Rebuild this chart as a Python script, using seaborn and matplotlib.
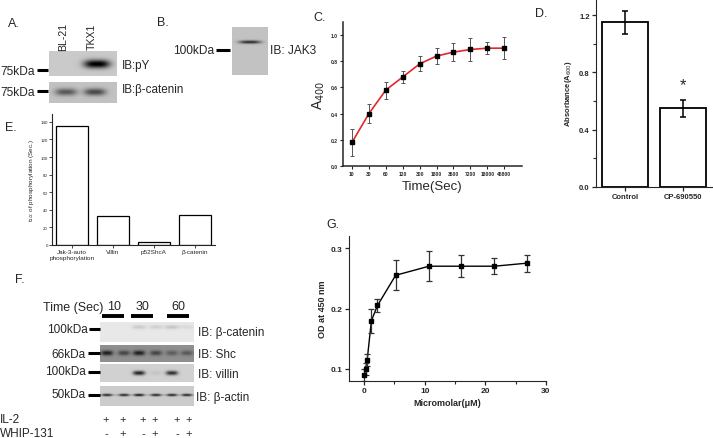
import numpy as np
import pandas as pd
import matplotlib
matplotlib.use("Agg")
import matplotlib.pyplot as plt
import seaborn as sns

# ---------------- data ----------------
# Panel C: time course of A400
C_labels = ['10', '30', '60', '120', '300', '1800', '3600', '7200', '18000', '46800']
C_vals = [0.18, 0.40, 0.58, 0.68, 0.78, 0.84, 0.87, 0.89, 0.90, 0.90]
C_err = [0.10, 0.07, 0.065, 0.047, 0.058, 0.061, 0.066, 0.085, 0.046, 0.083]

# Panel D: absorbance
D_labels = ['Control', 'CP-690550']
D_vals = [1.15, 0.55]
D_err = [0.08, 0.06]

# Panel E: t1/2 of phosphorylation
E_labels = ['Jak-3-auto\nphosphorylation', 'Villin', 'p52ShcA', 'β-catenin']
E_vals = [135, 33, 3, 34]

# Panel G: OD at 450 nm vs concentration
G_x = [0, 0.25, 0.5, 1.2, 2.2, 5.2, 10.7, 16.0, 21.5, 26.8]
G_y = [0.09, 0.10, 0.115, 0.18, 0.205, 0.255, 0.27, 0.27, 0.27, 0.275]
G_err = [0.01, 0.01, 0.01, 0.02, 0.01, 0.025, 0.025, 0.018, 0.013, 0.014]

# Blot band intensities (0 = no band, 1 = black)
A_lanes = ['BL-21', 'TKX1']
A_pY = [0.0, 0.82]
A_bcat = [0.42, 0.48]
B_jak3 = [0.60]
F_times = ['10', '30', '60']
F_il2 = ['+', '+', '+', '+', '+', '+']
F_whip = ['-', '+', '-', '+', '-', '+']
F_bcat = [0.0, 0.0, 0.12, 0.10, 0.14, 0.06]
F_shc = [0.45, 0.30, 0.45, 0.30, 0.20, 0.22]
F_villin = [0.0, 0.0, 0.70, 0.05, 0.65, 0.0]
F_actin = [0.55, 0.55, 0.60, 0.55, 0.55, 0.55]

# ---------------- style ----------------
sns.set_style("ticks")
plt.rcParams['font.family'] = ['Liberation Sans', 'DejaVu Sans']

W, H = 713, 439
fig = plt.figure(figsize=(W / 100, H / 100), dpi=100)
ov = fig.add_axes([0, 0, 1, 1])
ov.set_xlim(0, W)
ov.set_ylim(H, 0)
ov.axis('off')
ov.set_zorder(10)
ov.patch.set_visible(False)


def T(x, y, s, size=9, ha='left', va='center', **kw):
    ov.text(x, y, s, fontsize=size, ha=ha, va=va, **kw)


def dash(x0, x1, y, lw=2.2):
    ov.plot([x0, x1], [y, y], color='black', lw=lw, solid_capstyle='butt')


def px_axes(x0, y0, x1, y1):
    return fig.add_axes([x0 / W, 1 - y1 / H, (x1 - x0) / W, (y1 - y0) / H])


def blot(x0, y0, x1, y1, bg, lanes, ints, by, bw, bh, extra=0.0):
    ax = px_axes(x0, y0, x1, y1)
    nx, ny = int((x1 - x0) * 4), int((y1 - y0) * 4)
    X, Y = np.meshgrid(np.linspace(x0, x1, nx), np.linspace(y0, y1, ny))
    img = np.full(X.shape, bg, dtype=float)
    for lx, it in zip(lanes, ints):
        img -= it * np.exp(-np.abs((X - lx) / bw) ** 3 - ((Y - by) / bh) ** 2)
    if extra:
        img -= extra * np.exp(-((Y - by) / (bh * 0.6)) ** 2)
    img = np.clip(img, 0, 1)
    ax.imshow(img, cmap='gray', vmin=0, vmax=1, extent=(x0, x1, y1, y0),
              aspect='auto', interpolation='bilinear')
    ax.set_axis_off()
    return ax

# ---------------- Panel A ----------------
T(8, 24, "A.", 9)
for lx, lab in zip([63, 92], A_lanes):
    ov.text(lx, 37, lab, rotation=90, ha='center', va='center', fontsize=7.6)
blot(49, 52, 117, 77, 0.79, [66, 97], A_pY, 65, 13, 4.2)
blot(49, 83, 117, 104, 0.76, [66, 95], A_bcat, 93, 11, 3.6)
T(35, 72, "75kDa", 8.6, ha='right')
dash(37, 48, 71)
T(35, 93, "75kDa", 8.6, ha='right')
dash(37, 48, 92)
T(122, 66, "IB:pY", 8.4)
T(122, 90, "IB:β-catenin", 8.4)

# ---------------- Panel B ----------------
T(157, 23, "B.", 9)
blot(232, 28, 268, 76, 0.76, [250], B_jak3, 43, 11, 1.6)
T(214, 51, "100kDa", 8.6, ha='right')
dash(216, 230, 51)
T(270, 51, "IB: JAK3", 8.6)

# ---------------- Panel C ----------------
T(313, 18, "C.", 9)
axC = px_axes(343, 23, 522, 167)
C_pos = np.arange(len(C_labels))
sns.lineplot(x=C_pos, y=C_vals, ax=axC, color='#e3262b', lw=1.2)
axC.errorbar(C_pos, C_vals, yerr=C_err, fmt='s', color='black', ms=2.8,
             ecolor='#555555', elinewidth=0.7, capsize=1.5, capthick=0.7)
axC.set_xlim(-0.53, 10.05)
axC.set_ylim(0, 1.1)
axC.set_xticks(C_pos)
axC.set_xticklabels(C_labels)
axC.set_yticks([0.0, 0.2, 0.4, 0.6, 0.8, 1.0])
axC.set_yticklabels(['0.0', '0.2', '0.4', '0.6', '0.8', '1.0'])
axC.tick_params(labelsize=3.6, length=2, width=0.8, pad=1.5)
for lab in axC.get_xticklabels() + axC.get_yticklabels():
    lab.set_fontweight('bold')
for s in ['left', 'bottom']:
    axC.spines[s].set_linewidth(1.1)
sns.despine(ax=axC)
axC.set_xlabel("Time(Sec)", fontsize=9.5, labelpad=3)
axC.set_ylabel("A$_{400}$", fontsize=10, labelpad=3)

# ---------------- Panel D ----------------
T(535, 14, "D.", 9)
axD = px_axes(596, 0, 713, 188)
sns.barplot(x=D_labels, y=D_vals, ax=axD, width=0.8, color='white',
            edgecolor='black', linewidth=1.3)
for p in axD.patches:
    p.set_facecolor('white')
axD.errorbar(range(len(D_vals)), D_vals, yerr=D_err, fmt='none', ecolor='black',
             elinewidth=1.1, capsize=2.5, capthick=1.1)
axD.set_xlim(-0.5, 1.52)
axD.set_ylim(0, 1.312)
axD.set_yticks([0.0, 0.4, 0.8, 1.2])
axD.set_yticklabels(['0.0', '0.4', '0.8', '1.2'])
axD.set_yticks([0.2, 0.6, 1.0], minor=True)
axD.tick_params(labelsize=5.5, length=3, width=0.9, pad=1.5)
axD.tick_params(which='minor', length=2, width=0.8)
for lab in axD.get_xticklabels() + axD.get_yticklabels():
    lab.set_fontweight('bold')
sns.despine(ax=axD)
axD.set_xlabel("")
axD.set_ylabel("Absorbance(A$_{600}$)", fontsize=5.5, fontweight='bold', labelpad=4)
axD.text(1, D_vals[1] + D_err[1] + 0.05, "*", ha='center', va='bottom', fontsize=12)

# ---------------- Panel E ----------------
T(5, 128, "E.", 9)
axE = px_axes(52, 115, 215, 246)
sns.barplot(x=E_labels, y=E_vals, ax=axE, width=0.78, color='white',
            edgecolor='black', linewidth=0.9)
for p in axE.patches:
    p.set_facecolor('white')
axE.set_xlim(-0.49, 3.5)
axE.set_ylim(0, 149)
axE.set_yticks(range(0, 141, 20))
axE.tick_params(axis='y', labelsize=3.2, length=2, width=0.6, pad=1)
axE.tick_params(axis='x', labelsize=4.6, length=2, width=0.6, pad=1)
for s in ['left', 'bottom']:
    axE.spines[s].set_linewidth(0.8)
sns.despine(ax=axE)
axE.set_xlabel("")
axE.set_ylabel("t$_{1/2}$ of phosphorylation (Sec.)", fontsize=4.6, labelpad=3)

# ---------------- Panel F ----------------
T(15, 280, "F.", 9)
T(43, 308, "Time (Sec)", 9)
for cx, t in zip([114, 142, 178], F_times):
    T(cx, 307, t, 9, ha='center')
for x0, x1 in [(102, 124), (131, 153), (167, 189)]:
    dash(x0, x1, 317, lw=2.8)
F_lane_x = [107, 124, 139, 156, 172, 187]
blot(100, 323, 194, 343, 0.91, F_lane_x, F_bcat, 328, 7, 2.0)
blot(100, 346, 194, 363, 0.56, F_lane_x, F_shc, 354, 6, 2.5)
blot(100, 365, 194, 383, 0.82, F_lane_x, F_villin, 374, 6, 2.2)
blot(100, 387, 194, 407, 0.80, F_lane_x, F_actin, 396, 5, 1.3, extra=0.15)
T(88, 330, "100kDa", 8.5, ha='right')
dash(89, 100, 330)
T(86, 355, "66kDa", 8.5, ha='right')
dash(88, 100, 354)
T(86, 372, "100kDa", 8.5, ha='right')
dash(88, 100, 373)
T(86, 395, "50kDa", 8.5, ha='right')
dash(88, 100, 396)
T(198, 333, "IB: β-catenin", 8.5)
T(198, 355, "IB: Shc", 8.5)
T(198, 375, "IB: villin", 8.5)
T(196, 398, "IB: β-actin", 8.5)
T(0, 420, "IL-2", 8.5)
T(0, 434, "WHIP-131", 8.5)
F_sign_x = [106, 123, 143, 155, 177, 189]
for sx, a, b in zip(F_sign_x, F_il2, F_whip):
    T(sx, 420, a, 8, ha='center')
    T(sx, 434, b, 8, ha='center')

# ---------------- Panel G ----------------
T(326, 225, "G.", 9)
axG = px_axes(349, 237, 546, 382)
sns.lineplot(x=G_x, y=G_y, ax=axG, color='black', lw=1.0)
axG.errorbar(G_x, G_y, yerr=G_err, fmt='s', color='black', ms=2.5,
             ecolor='#333333', elinewidth=0.9, capsize=2, capthick=0.9)
axG.set_xlim(-2.5, 30)
axG.set_ylim(0.08, 0.32)
axG.set_xticks([0, 10, 20, 30])
axG.set_xticks([5, 15, 25], minor=True)
axG.set_yticks([0.1, 0.2, 0.3])
axG.set_yticklabels(['0.1', '0.2', '0.3'])
axG.tick_params(labelsize=6, length=3, width=0.9, pad=1.5)
axG.tick_params(which='minor', length=2, width=0.8)
for lab in axG.get_xticklabels() + axG.get_yticklabels():
    lab.set_fontweight('bold')
sns.despine(ax=axG)
axG.set_xlabel("Micromolar(μM)", fontsize=6.5, fontweight='bold', labelpad=3)
axG.set_ylabel("OD at 450 nm", fontsize=6.5, fontweight='bold', labelpad=3)

fig.savefig("out.png", dpi=100)
